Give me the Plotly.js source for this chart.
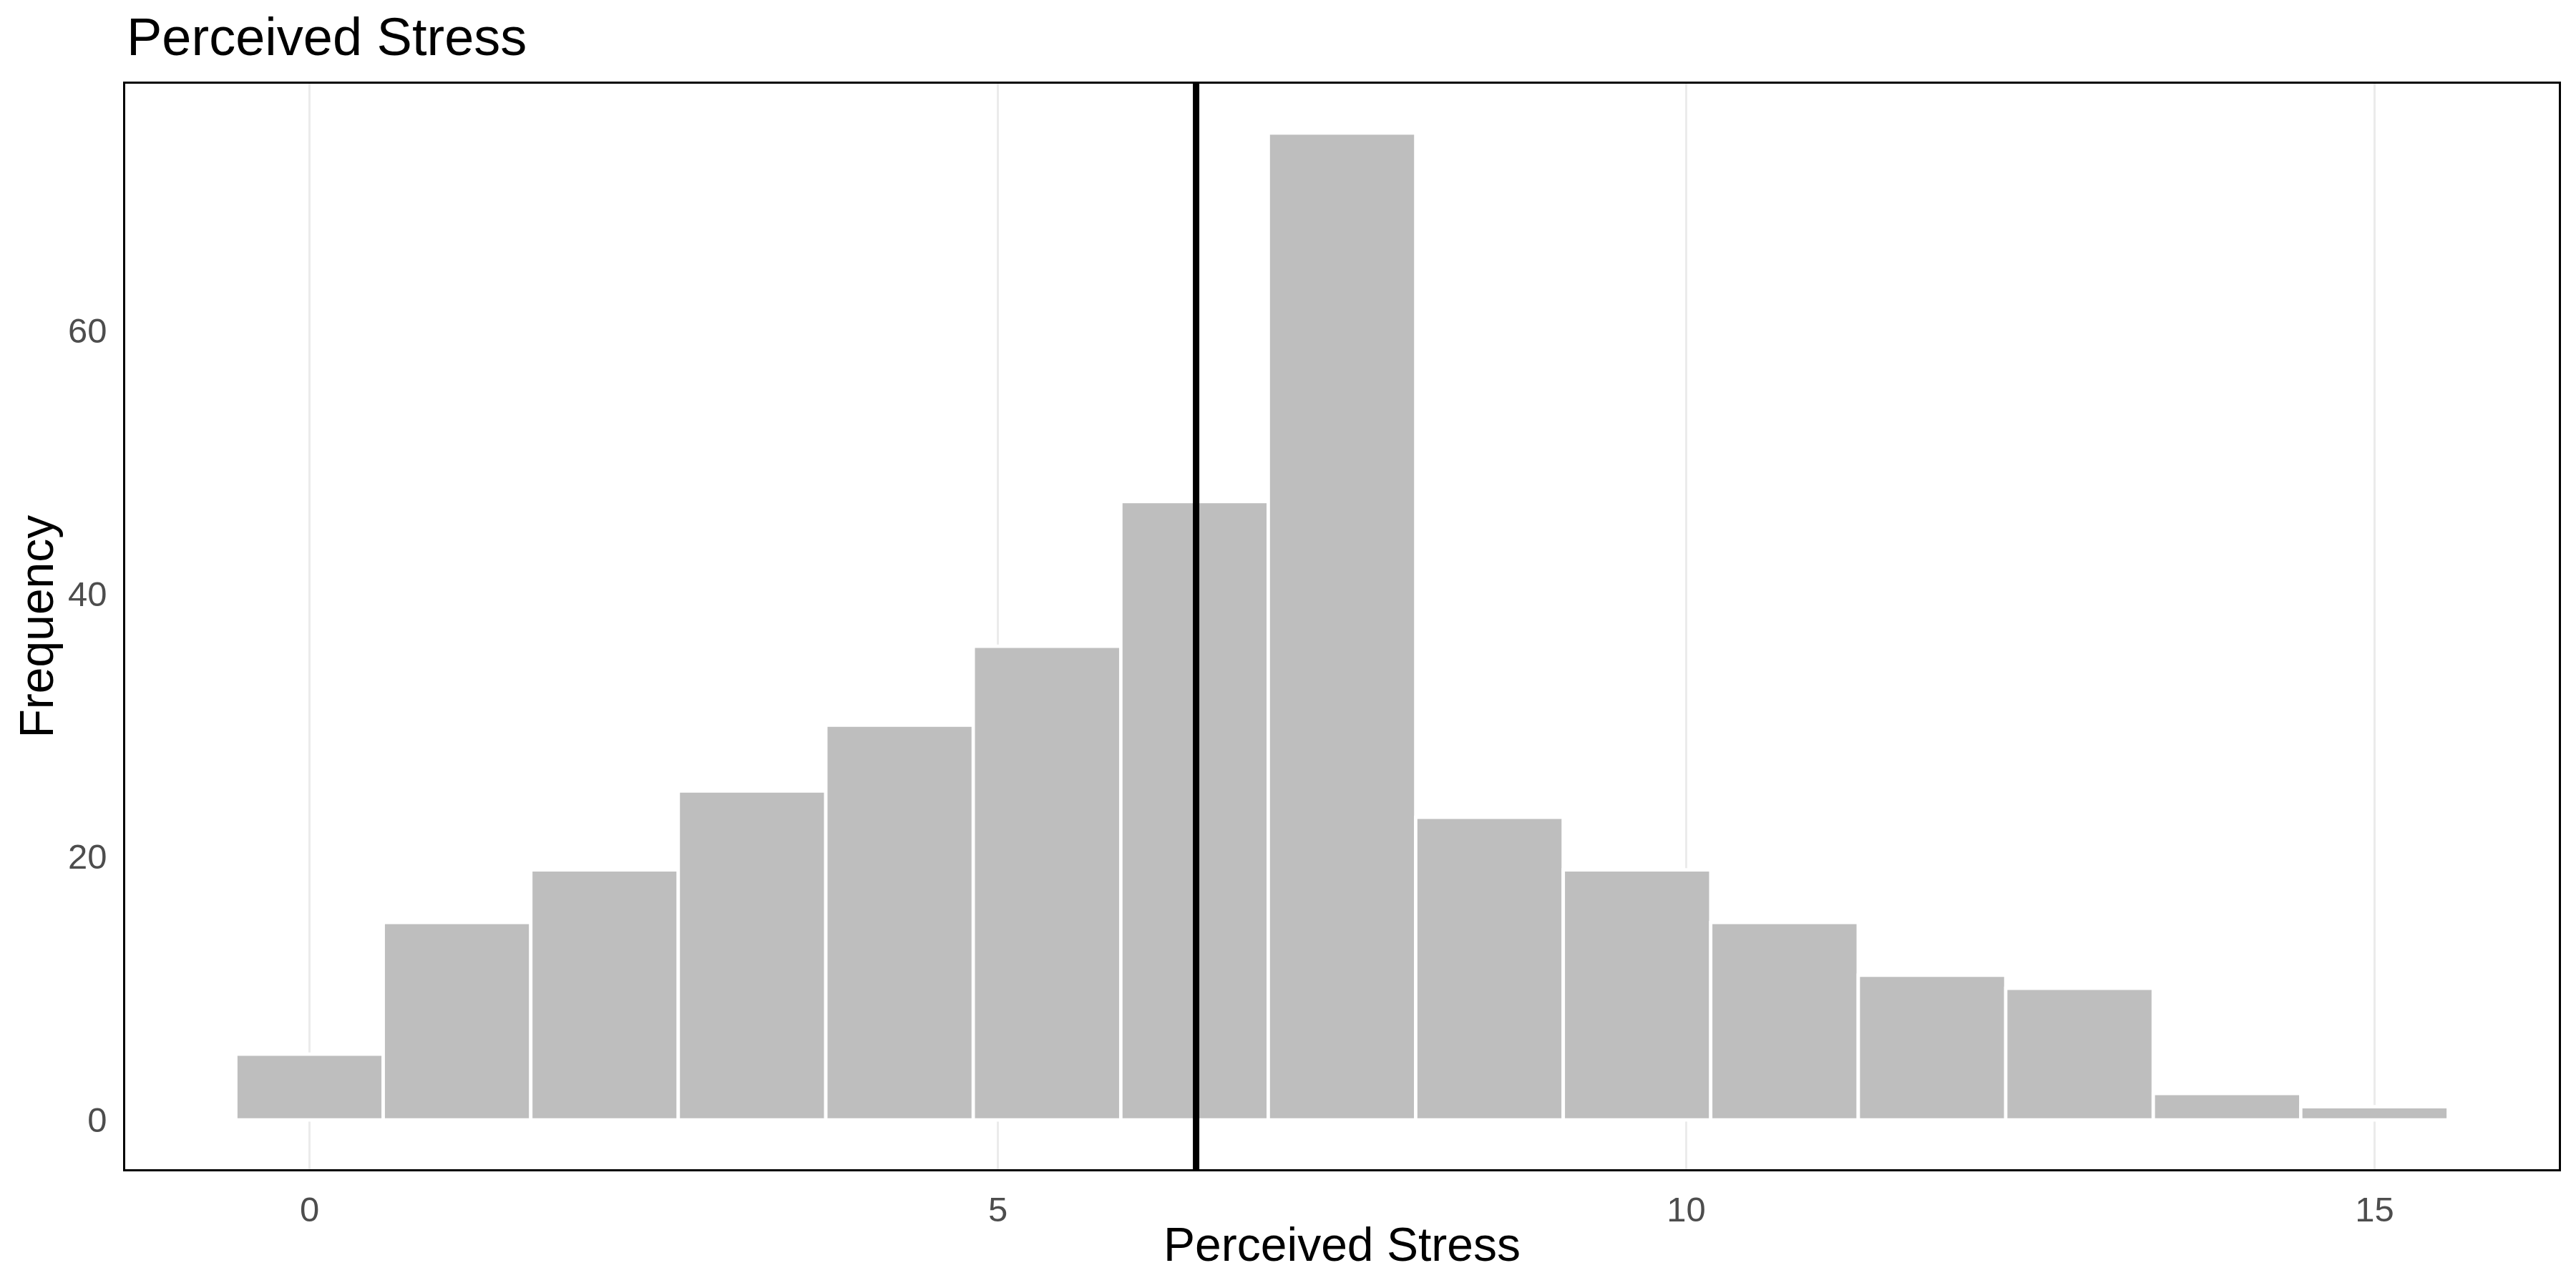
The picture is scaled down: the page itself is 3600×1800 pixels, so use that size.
<!DOCTYPE html>
<html>
<head>
<meta charset="utf-8">
<script src="https://cdn.plot.ly/plotly-3.0.1.min.js"></script>
<style>html,body{margin:0;padding:0;background:#fff;}</style>
</head>
<body>
<div id="chart" style="width:3600px;height:1800px;"></div>
<script>
// Histogram bins (centres) and counts
const binCenters = [0, 1.071, 2.143, 3.214, 4.286, 5.357, 6.429, 7.5, 8.571, 9.643, 10.714, 11.786, 12.857, 13.929, 15];
const binWidth = 1.0714;
const counts = [5, 15, 19, 25, 30, 36, 47, 75, 23, 19, 15, 11, 10, 2, 1];
const meanValue = 6.44;
const xTicks = [0, 5, 10, 15];
const yTicks = [0, 20, 40, 60];

const FONT = 'Liberation Sans, Arial, sans-serif';

const trace = {
  type: 'bar',
  x: binCenters,
  y: counts,
  width: binCenters.map(() => binWidth),
  marker: {color: '#BEBEBE', line: {color: '#FFFFFF', width: 4.7}},
  hoverinfo: 'x+y',
  showlegend: false
};

const layout = {
  width: 3600,
  height: 1800,
  paper_bgcolor: '#FFFFFF',
  plot_bgcolor: '#FFFFFF',
  margin: {l: 175, r: 24, t: 117, b: 166, pad: 0},
  bargap: 0,
  title: {
    text: 'Perceived Stress',
    font: {family: FONT, size: 74, color: '#000000'},
    x: 177 / 3600, xref: 'container', xanchor: 'left',
    y: 1 - 51 / 1800, yref: 'container', yanchor: 'middle'
  },
  xaxis: {
    range: [-1.339, 16.339],
    tickvals: xTicks,
    ticktext: xTicks.map(String),
    showgrid: true,
    gridcolor: '#EBEBEB',
    gridwidth: 2.7,
    zeroline: false,
    showline: true,
    mirror: true,
    linecolor: '#000000',
    linewidth: 2.6,
    ticks: 'outside',
    ticklen: 12,
    tickcolor: 'rgba(0,0,0,0)',
    tickfont: {family: FONT, size: 49, color: '#4D4D4D'},
    title: {text: 'Perceived Stress', font: {family: FONT, size: 66, color: '#000000'}, standoff: 0},
    automargin: false
  },
  yaxis: {
    range: [-3.75, 78.75],
    tickvals: yTicks,
    ticktext: yTicks.map(String),
    showgrid: false,
    zeroline: false,
    showline: true,
    mirror: true,
    linecolor: '#000000',
    linewidth: 2.6,
    ticks: 'outside',
    ticklen: 13,
    tickcolor: 'rgba(0,0,0,0)',
    tickfont: {family: FONT, size: 49, color: '#4D4D4D'},
    title: {text: ''},
    automargin: false
  },
  annotations: [{
    text: 'Frequency',
    textangle: -90,
    font: {family: FONT, size: 66, color: '#000000'},
    xref: 'paper', yref: 'paper',
    x: (50 - 175) / 3401, y: 0.5,
    xanchor: 'center', yanchor: 'middle',
    showarrow: false
  }],
  shapes: [{
    type: 'line',
    xref: 'x', yref: 'paper',
    x0: meanValue, x1: meanValue, y0: 0, y1: 1,
    line: {color: '#000000', width: 9},
    layer: 'above'
  }]
};

Plotly.newPlot('chart', [trace], layout, {displayModeBar: false, staticPlot: true});
</script>
</body>
</html>
